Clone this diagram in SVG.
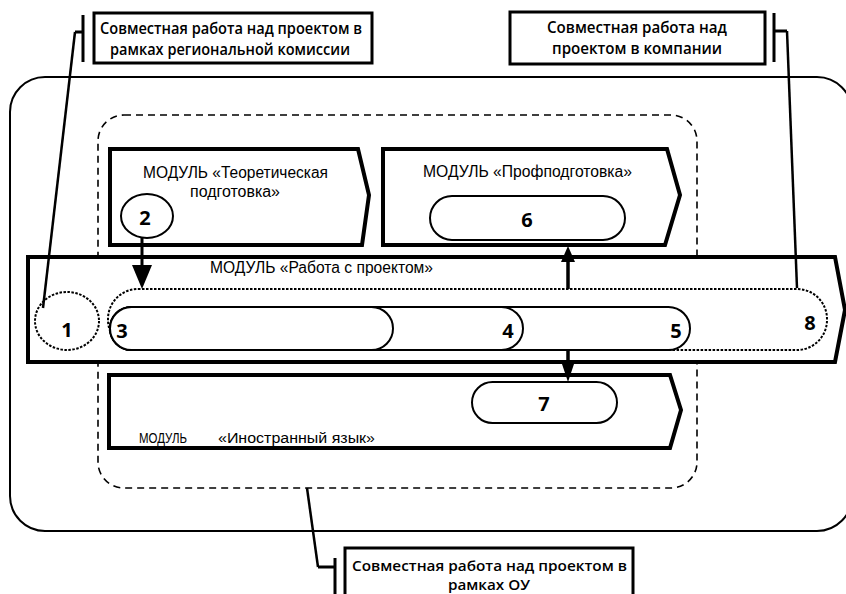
<svg xmlns="http://www.w3.org/2000/svg" width="846" height="594" viewBox="0 0 846 594">
<style>
.mod{fill:#fff;stroke:#000;stroke-width:4;stroke-linejoin:miter}
.pill{fill:#fff;stroke:#000;stroke-width:2}
.ml{font-family:"Liberation Sans",Arial,sans-serif;font-size:16px;fill:#000}
.ml2{font-family:"Liberation Sans",Arial,sans-serif;font-size:14px;fill:#000}
.num{font-family:"Open Sans","DejaVu Sans",sans-serif;font-weight:700;font-size:20px;fill:#000;text-anchor:middle}
.co{font-family:"Open Sans","DejaVu Sans",sans-serif;font-weight:600;font-size:17px;fill:#000}
.co2{font-family:"Open Sans","DejaVu Sans",sans-serif;font-weight:600;font-size:14px;fill:#000}
.box{fill:#fff;stroke:#000;stroke-width:3}
.ln{fill:none;stroke:#000;stroke-width:2.5}
.br{fill:none;stroke:#000;stroke-width:3}
</style>
<rect width="846" height="594" fill="#fff"/>
<g id="outer">
<rect x="10" y="77" width="842" height="454" rx="35" ry="35" fill="none" stroke="#000" stroke-width="2"/>
</g>
<g id="ou">
<rect x="98" y="115" width="599" height="373" rx="26" ry="26" fill="none" stroke="#000" stroke-width="1.6" stroke-dasharray="7 5"/>
</g>
<g id="mod-theory">
<polygon class="mod" points="110,149 358,149 369,195 362,245 110,245"/>
<text class="ml" x="143" y="178" textLength="185" lengthAdjust="spacingAndGlyphs">МОДУЛЬ «Теоретическая</text>
<text class="ml" x="190" y="197" textLength="90" lengthAdjust="spacingAndGlyphs">подготовка»</text>
</g>
<g id="n2">
<ellipse cx="147" cy="216" rx="26" ry="22" fill="#fff" stroke="#000" stroke-width="2"/>
<text class="num" x="145" y="225">2</text>
</g>
<g id="mod-prof">
<polygon class="mod" points="383,149 667,149 680,195 665,245 383,245"/>
<text class="ml" x="423" y="177" textLength="209" lengthAdjust="spacingAndGlyphs">МОДУЛЬ «Профподготовка»</text>
</g>
<g id="n6">
<rect class="pill" x="430" y="196" width="195" height="44" rx="22" ry="22"/>
<text class="num" x="527" y="227">6</text>
</g>
<g id="mod-lang">
<polygon class="mod" points="109,375 670,375 681,410 670,448 109,448"/>
<text class="ml2" x="139" y="443" textLength="48" lengthAdjust="spacingAndGlyphs">МОДУЛЬ</text>
<text class="ml2" x="218" y="443" textLength="157" lengthAdjust="spacingAndGlyphs">«Иностранный язык»</text>
</g>
<g id="n7">
<rect class="pill" x="472" y="382" width="145" height="41" rx="20.5" ry="20.5"/>
<text class="num" x="544" y="411">7</text>
</g>
<g id="mod-project">
<polygon class="mod" points="28,257 835,257 845,310 835,362 28,362"/>
<text class="ml" x="210" y="273" textLength="223" lengthAdjust="spacingAndGlyphs">МОДУЛЬ «Работа с проектом»</text>
</g>
<g id="n8">
<rect x="108" y="289" width="719" height="61" rx="30" ry="30" fill="none" stroke="#000" stroke-width="2" stroke-dasharray="2.5 1.5"/>
<text class="num" x="810" y="330">8</text>
</g>
<g id="n5">
<rect class="pill" x="110" y="307" width="580" height="43" rx="21.5" ry="21.5"/>
<text class="num" x="676" y="338">5</text>
</g>
<g id="n4">
<rect class="pill" x="110" y="307" width="413" height="43" rx="21.5" ry="21.5"/>
<text class="num" x="508" y="338">4</text>
</g>
<g id="n3">
<rect class="pill" x="110" y="307" width="283" height="43" rx="21.5" ry="21.5"/>
<text class="num" x="122" y="338">3</text>
</g>
<g id="n1">
<ellipse cx="67" cy="321" rx="32" ry="29" fill="#fff" stroke="#000" stroke-width="2" stroke-dasharray="2.5 1.5"/>
<text class="num" x="67" y="337">1</text>
</g>
<g id="callout-region">
<rect class="box" x="94" y="13" width="278" height="50"/>
<text class="co" x="100" y="34" textLength="262" lengthAdjust="spacingAndGlyphs">Совместная работа над проектом в</text>
<text class="co" x="110" y="55" textLength="240" lengthAdjust="spacingAndGlyphs">рамках региональной комиссии</text>
</g>
<g id="callout-company">
<rect class="box" x="510" y="12" width="255" height="52"/>
<text class="co" x="547" y="33" textLength="180" lengthAdjust="spacingAndGlyphs">Совместная работа над</text>
<text class="co" x="552" y="54" textLength="170" lengthAdjust="spacingAndGlyphs">проектом в компании</text>
</g>
<g id="callout-ou">
<rect class="box" x="345" y="548" width="288" height="60"/>
<text class="co2" x="352" y="571" textLength="275" lengthAdjust="spacingAndGlyphs">Совместная работа над проектом в</text>
<text class="co2" x="448" y="590" textLength="82" lengthAdjust="spacingAndGlyphs">рамках ОУ</text>
</g>
<g id="connectors">
<line x1="142" y1="238" x2="142" y2="268" stroke="#000" stroke-width="3"/>
<polygon points="132,265 152,265 142,289"/>
<line x1="568" y1="289" x2="568" y2="258" stroke="#000" stroke-width="3.5"/>
<polygon points="561,262 575,262 568,246"/>
<line x1="568" y1="350" x2="568" y2="368" stroke="#000" stroke-width="3.5"/>
<polygon points="562,364 574,364 568,382"/>
<path class="br" d="M83,15 V62 M83,32 H75"/>
<path class="ln" d="M75,32 L43,308"/>
<path class="br" d="M774,13 V62 M774,31 H787"/>
<path class="ln" d="M787,31 L797,288"/>
<path class="br" d="M335,558 V594 M335,567 H318"/>
<path class="ln" d="M318,567 L307,488"/>
</g>
</svg>
